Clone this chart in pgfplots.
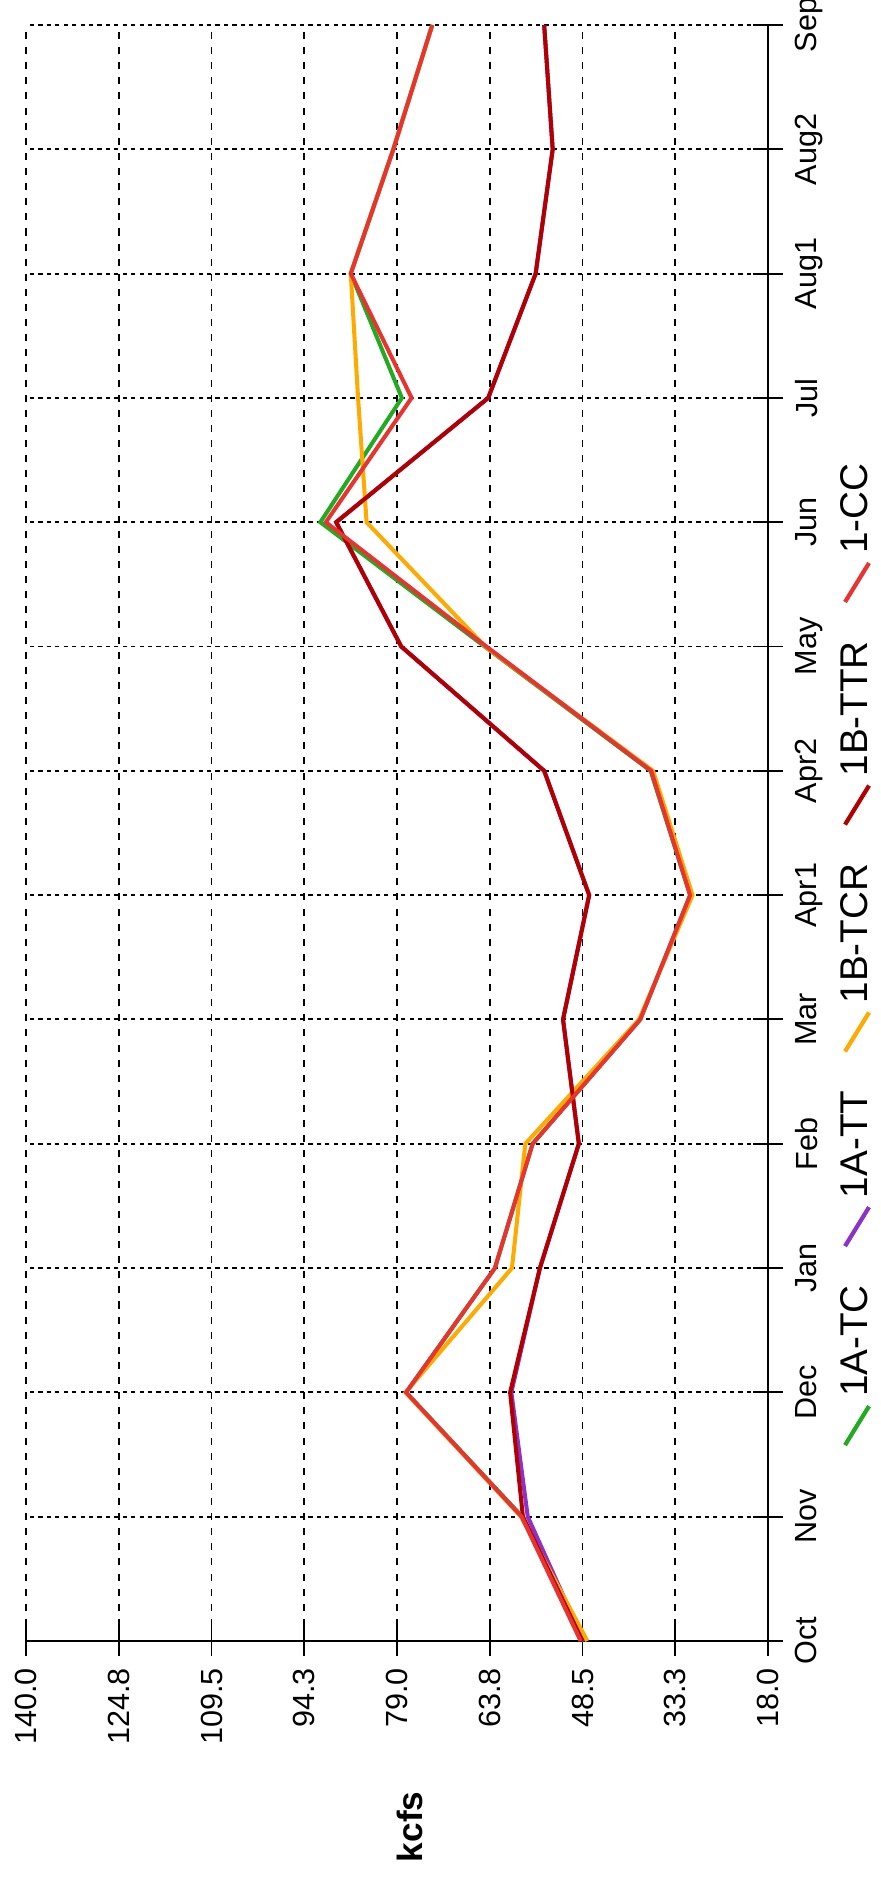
\documentclass[border=0pt]{standalone}
\usepackage{pgfplots}
\pgfplotsset{compat=1.18}
\usepackage{graphicx}
\usepackage{fontspec}
\setmainfont{Liberation Sans}

\definecolor{cTC}{RGB}{34,170,34}
\definecolor{cTT}{RGB}{140,50,200}
\definecolor{cTCR}{RGB}{255,170,0}
\definecolor{cTTR}{RGB}{178,0,0}
\definecolor{cCC}{RGB}{232,52,48}

\begin{document}%
\noindent\rotatebox{90}{%
\begin{tikzpicture}[baseline=(current bounding box.south)]
\begin{axis}[
    scale only axis,
    width=161.6mm, height=74.2mm,
    xmin=0, xmax=13, ymin=18, ymax=140,
    axis x line*=bottom, axis y line*=left,
    axis line style={black, line width=0.55pt},
    xtick={0,...,13},
    xticklabels={Oct,Nov,Dec,Jan,Feb,Mar,Apr1,Apr2,May,Jun,Jul,Aug1,Aug2,Sep},
    ytick={18,33.25,48.5,63.75,79,94.25,109.5,124.75,140},
    yticklabels={18.0,33.3,48.5,63.8,79.0,94.3,109.5,124.8,140.0},
    tick align=center,
    major tick length=3mm,
    tick style={black, line width=0.55pt},
    tick label style={font=\fontsize{8.7}{10}\selectfont},
    /pgf/number format/assume math mode=true,
    grid=major,
    x grid style={black, line width=0.55pt, dash pattern=on 1.2pt off 1.2pt},
    y grid style={black, line width=0.55pt, dash pattern=on 2pt off 2.3pt},
    ylabel={\textbf{kcfs}},
    ylabel style={at={(axis description cs:-0.115,0.482)}, anchor=center, rotate=-90, font=\fontsize{10}{12}\selectfont},
    legend image code/.code={\draw[#1, line width=1.2pt] (0mm,1.2mm) -- (3.9mm,-1.2mm);},
    legend style={at={(axis description cs:0.4264,-0.12)}, anchor=center,
        draw=none, fill=none, legend columns=-1,
        font=\fontsize{11}{13}\selectfont,
        /tikz/every even column/.append style={column sep=3mm}},
    ]
% 1A-TC
\addplot[cTC, line width=1.15pt] coordinates {
    (0,48.2) (1,58.4) (2,77.5) (3,62.9) (4,56.7) (5,39.0) (6,30.8)
    (7,37.3) (8,64.6) (9,91.6) (10,78.2) (11,86.6) (12,79.6) (13,73.2)};
\addlegendentry{1A-TC}
% 1A-TT
\addplot[cTT, line width=1.15pt] coordinates {
    (0,48.3) (1,57.5) (2,60.2) (3,55.5) (4,49.1) (5,51.7) (6,47.4)
    (7,54.8) (8,78.3) (9,89.0) (10,64.0) (11,56.2) (12,53.4) (13,54.8)};
\addlegendentry{1A-TT}
% 1B-TCR
\addplot[cTCR, line width=1.15pt] coordinates {
    (0,47.7) (1,58.6) (2,77.6) (3,60.1) (4,57.9) (5,39.2) (6,30.4)
    (7,36.9) (8,64.5) (9,84.0) (10,85.4) (11,86.6) (12,79.6) (13,73.2)};
\addlegendentry{1B-TCR}
% 1B-TTR
\addplot[cTTR, line width=1.15pt] coordinates {
    (0,48.5) (1,58.3) (2,60.4) (3,55.5) (4,49.1) (5,51.7) (6,47.4)
    (7,54.8) (8,78.3) (9,89.0) (10,64.0) (11,56.2) (12,53.4) (13,54.8)};
\addlegendentry{1B-TTR}
% 1-CC
\addplot[cCC, line width=1.15pt] coordinates {
    (0,48.8) (1,58.5) (2,77.5) (3,62.9) (4,56.7) (5,39.0) (6,30.8)
    (7,37.2) (8,64.3) (9,90.7) (10,76.6) (11,86.6) (12,79.6) (13,73.2)};
\addlegendentry{1-CC}
\end{axis}
\pgfresetboundingbox
\path[use as bounding box] (-24.6mm,-11.2mm) rectangle (164.1mm,76.8mm);
\end{tikzpicture}}%
\end{document}
